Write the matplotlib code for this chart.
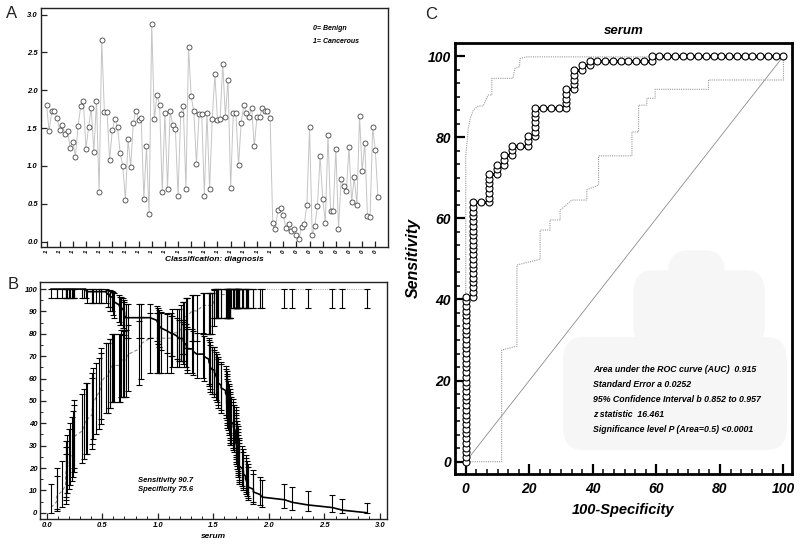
import math
import numpy as np
import matplotlib
matplotlib.use("Agg")
import matplotlib.pyplot as plt
from matplotlib.ticker import MultipleLocator, FixedLocator
from matplotlib.patches import FancyBboxPatch

# ---------------- data ----------------
cancerous = [1.81, 1.46, 1.72, 1.73, 1.64, 1.47, 1.54, 1.42, 1.46, 1.24,
             1.32, 1.12, 1.53, 1.79, 1.86, 1.23, 1.51, 1.77, 1.19, 1.86,
             0.66, 2.66, 1.71, 1.71, 1.08, 1.47, 1.62, 1.52, 1.17, 1.00,
             0.55, 1.35, 0.99, 1.57, 1.73, 1.61, 1.63, 0.57, 1.26, 0.36,
             2.88, 1.62, 1.94, 1.81, 0.65, 1.70, 0.70, 1.72, 1.54, 1.49,
             0.60, 1.68, 1.79, 0.70, 2.57, 1.92, 1.72, 1.03, 1.68, 1.69,
             0.61, 1.70, 0.69, 1.62, 2.21, 1.61, 1.62, 2.35, 1.65, 2.14,
             0.71, 1.70, 1.70, 1.01, 1.57, 1.80, 1.70, 1.65, 1.77, 1.26,
             1.65, 1.65, 1.76, 1.72, 1.73, 1.64]
benign = [0.25, 0.17, 0.42, 0.44, 0.35, 0.18, 0.24, 0.14, 0.17, 0.09,
          0.04, 0.20, 0.23, 0.49, 1.51, 0.09, 0.21, 0.47, 1.13, 0.57,
          0.25, 1.41, 0.41, 0.41, 1.23, 0.17, 0.83, 0.73, 0.67, 1.25,
          0.53, 0.85, 0.49, 1.66, 0.93, 1.31, 0.34, 0.32, 1.51, 1.21, 0.59]

# 95% CI band of the ROC curve
ci_upper_fpr = [0.0, 0.0, 0.8, 1.4, 2.4, 4.0, 5.5, 6.6, 7.1, 8.2, 8.2, 14.8, 15.5, 16.9, 17.1, 19.2, 100.0]
ci_upper_sens = [0.0, 75.5, 82.2, 84.6, 86.7, 87.7, 87.7, 89.6, 90.4, 90.4, 94.5, 94.5, 97.0, 97.4, 99.4, 99.8, 99.8]
ci_lower_fpr = [0.0, 11.3, 11.3, 16.1, 16.1, 23.4, 23.4, 26.5, 26.5, 29.7, 29.7, 33.4, 38.1, 38.1, 41.8, 41.8,
                52.3, 52.3, 54.4, 54.4, 57.0, 57.0, 59.6, 59.6, 76.4, 76.4, 100.0, 100.0]
ci_lower_sens = [0.0, 0.0, 27.5, 28.5, 48.5, 49.9, 57.1, 57.1, 59.6, 59.6, 62.0, 64.5, 64.5, 67.0, 68.2, 75.4,
                 75.4, 81.3, 81.3, 87.9, 87.9, 89.6, 89.6, 91.8, 91.8, 94.1, 94.1, 99.8]

stats_lines = ["Area under the ROC curve (AUC)  0.915",
               "Standard Error a 0.0252",
               "95% Confidence Interval b 0.852 to 0.957",
               "z statistic  16.461",
               "Significance level P (Area=0.5) <0.0001"]
optimal_text = ["Sensitivity 90.7", "Specificity 75.6"]

# ---------------- helpers ----------------
def binom_cdf(k, n, p):
    if k < 0:
        return 0.0
    if k >= n:
        return 1.0
    return sum(math.comb(n, i) * p ** i * (1 - p) ** (n - i) for i in range(k + 1))


def clopper_pearson(k, n, alpha=0.05):
    def solve(f, target):
        lo, hi = 0.0, 1.0
        for _ in range(40):
            mid = 0.5 * (lo + hi)
            if f(mid) < target:
                lo = mid
            else:
                hi = mid
        return 0.5 * (lo + hi)
    lower = 0.0 if k == 0 else solve(lambda p: 1 - binom_cdf(k - 1, n, p), alpha / 2)
    upper = 1.0 if k == n else solve(lambda p: -binom_cdf(k, n, p), -alpha / 2)
    return 100 * lower, 100 * upper


plt.rcParams['font.family'] = ['Liberation Sans', 'DejaVu Sans']

canc = np.array(cancerous)
ben = np.array(benign)
n1, n0 = len(canc), len(ben)
all_vals = np.concatenate([canc, ben])
all_cls = np.concatenate([np.ones(n1, int), np.zeros(n0, int)])
asc = np.lexsort((all_cls, all_vals))          # ascending criterion order
v_asc = all_vals[asc]
c_asc = all_cls[asc]

fig = plt.figure(figsize=(8, 5.47), dpi=100)
BI = dict(fontweight='bold', fontstyle='italic')

# ================= Panel A =================
axA = fig.add_axes([0.0509, 0.549, 0.4337, 0.4369])
idx = np.arange(len(all_vals))
axA.plot(idx, all_vals, '-', color='#c4c4c4', lw=0.7, zorder=2)
axA.plot(idx, all_vals, 'o', ms=3.6, mfc='white', mec='#444444', mew=0.6, zorder=3)
axA.set_xlim(-2.2, 129.7)
axA.set_ylim(-0.066, 3.09)
tick_pos = list(range(0, len(all_vals), 5))
axA.xaxis.set_major_locator(FixedLocator(tick_pos))
axA.set_xticklabels(['1' if i < n1 else '0' for i in tick_pos], rotation=90, fontsize=4.5, **BI)
axA.set_yticks(np.arange(0, 3.01, 0.5))
axA.set_yticklabels([f"{v:.1f}" for v in np.arange(0, 3.01, 0.5)], fontsize=5.5, **BI)
axA.tick_params(direction='in', length=4, width=0.9, pad=2, color='#222')
for s in axA.spines.values():
    s.set_linewidth(1.0)
    s.set_color('#222')
axA.set_xlabel("Classification: diagnosis", fontsize=6, labelpad=2, **BI)
axA.text(101.4, 2.82, "0= Benign", fontsize=5, va='center', **BI)
axA.text(101.4, 2.65, "1= Cancerous", fontsize=5, va='center', **BI)

# ================= Panel B =================
axB = fig.add_axes([0.05, 0.0512, 0.4334, 0.4338])
spec_k = np.cumsum(c_asc == 0)
sens_k = n1 - np.cumsum(c_asc == 1)
sens = 100 * sens_k / n1
spec = 100 * spec_k / n0
sens_ci = np.array([clopper_pearson(k, n1) for k in sens_k])
spec_ci = np.array([clopper_pearson(k, n0) for k in spec_k])

full = int(np.argmax(spec >= 100))
axB.plot(v_asc[:full + 1], spec[:full + 1], color='#8a8a8a', lw=0.8, ls=(0, (3, 2)), zorder=2)
axB.plot(v_asc[full:], spec[full:], color='#b0b0b0', lw=0.8, ls=(0, (1, 1)), zorder=2)
axB.errorbar(v_asc, spec, yerr=[spec - spec_ci[:, 0], spec_ci[:, 1] - spec],
             fmt='none', ecolor='black', elinewidth=0.8, capsize=2.4, capthick=0.8, zorder=3)
axB.errorbar(v_asc, sens, yerr=[sens - sens_ci[:, 0], sens_ci[:, 1] - sens],
             fmt='-', color='black', lw=1.2, ecolor='black', elinewidth=0.8,
             capsize=2.4, capthick=0.8, zorder=4)
axB.set_xlim(-0.06, 3.06)
axB.set_ylim(-2.8, 103.3)
axB.set_xticks(np.arange(0, 3.01, 0.5))
axB.set_xticklabels([f"{v:.1f}" for v in np.arange(0, 3.01, 0.5)], fontsize=5.5, **BI)
axB.xaxis.set_minor_locator(MultipleLocator(0.1))
axB.set_yticks(np.arange(0, 101, 10))
axB.set_yticklabels([str(v) for v in range(0, 101, 10)], fontsize=5.5, **BI)
axB.yaxis.set_minor_locator(MultipleLocator(5))
axB.tick_params(which='major', direction='in', length=4, width=0.9, pad=2, color='#222')
axB.tick_params(which='minor', direction='in', length=2, width=0.7, color='#222')
for s in axB.spines.values():
    s.set_linewidth(1.0)
    s.set_color('#222')
axB.set_xlabel("serum", fontsize=6, labelpad=3, **BI)
axB.text(0.82, 14.6, optimal_text[0], fontsize=5.5, fontstyle='italic', fontweight='semibold', va='center')
axB.text(0.82, 10.6, optimal_text[1], fontsize=5.5, fontstyle='italic', fontweight='semibold', va='center')

# ================= Panel C =================
axC = fig.add_axes([0.5688, 0.1335, 0.4209, 0.7885])
for (x0, x1, y0, y1) in [(30.6, 101.1, 2.9, 30.7), (52.7, 94.2, 28.0, 47.2), (63.7, 81.6, 44.0, 52.1)]:
    axC.add_patch(FancyBboxPatch((x0, y0), x1 - x0, y1 - y0,
                                 boxstyle="round,pad=0,rounding_size=6",
                                 fc='#f6f6f6', ec='none', zorder=0))
desc_cls = c_asc[::-1]
tpr = np.concatenate([[0.0], 100 * np.cumsum(desc_cls == 1) / n1])
fpr = np.concatenate([[0.0], 100 * np.cumsum(desc_cls == 0) / n0])
axC.plot([0, 100], [0, 100], color='#8c8c8c', lw=0.6, zorder=1)
axC.plot(ci_upper_fpr, ci_upper_sens, color='#9a9a9a', lw=0.8, ls=(0, (1, 1)), zorder=1)
axC.plot(ci_lower_fpr, ci_lower_sens, color='#9a9a9a', lw=0.8, ls=(0, (1, 1)), zorder=1)
axC.plot(fpr, tpr, '-', color='black', lw=2, zorder=3)
axC.plot(fpr, tpr, 'o', ms=5, mfc='white', mec='black', mew=0.8, zorder=4)
axC.set_xlim(-3.37, 102.6)
axC.set_ylim(-3.03, 103.3)
axC.set_xticks(np.arange(0, 101, 20))
axC.set_yticks(np.arange(0, 101, 20))
axC.xaxis.set_minor_locator(MultipleLocator(20 / 6))
axC.yaxis.set_minor_locator(MultipleLocator(20 / 6))
axC.set_xticklabels([str(v) for v in range(0, 101, 20)], fontsize=10, **BI)
axC.set_yticklabels([str(v) for v in range(0, 101, 20)], fontsize=10, **BI)
axC.tick_params(which='major', direction='in', length=7, width=1.6, pad=6, color='black')
axC.tick_params(axis='y', which='major', pad=3)
axC.tick_params(which='minor', direction='in', length=3.5, width=1.1, color='black')
for s in axC.spines.values():
    s.set_linewidth(2.0)
axC.set_title("serum", fontsize=9.5, pad=6, **BI)
axC.set_xlabel("100-Specificity", fontsize=10.5, labelpad=5, **BI)
axC.set_ylabel("Sensitivity", fontsize=11.5, labelpad=5, **BI)
for j, line in enumerate(stats_lines):
    axC.text(40, 22.8 - 3.72 * j, line, fontsize=6.3, va='center', **BI)

# panel letters
fig.text(0.015, 0.976, "A", fontsize=12, color='#222', ha='center', va='center')
fig.text(0.016, 0.479, "B", fontsize=12, color='#222', ha='center', va='center')
fig.text(0.539, 0.973, "C", fontsize=12, color='#222', ha='center', va='center')

fig.savefig("out.png", dpi=100)
